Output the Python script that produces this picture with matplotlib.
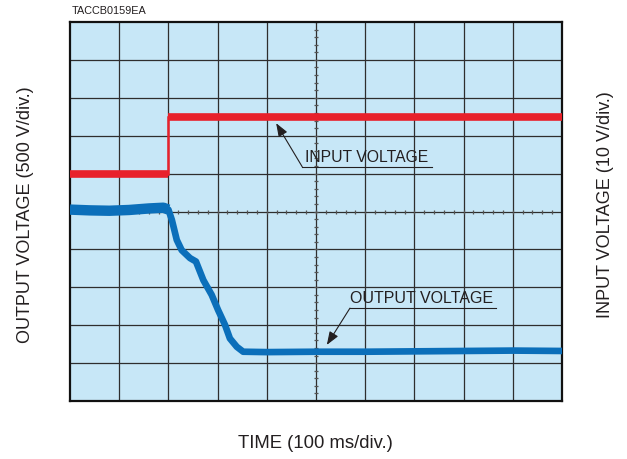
import matplotlib
matplotlib.use('Agg')
import matplotlib.pyplot as plt

plt.rcParams['font.family'] = ['Liberation Sans', 'DejaVu Sans']

# time and voltage in screen divisions (10 x 10 grid)
input_t = [0.0, 2.0, 2.0, 10.0]
input_v = [6.0, 6.0, 7.5, 7.5]

output_t = [0.0, 0.4, 0.8, 1.2, 1.6, 1.9, 2.0, 2.07, 2.17, 2.27, 2.44, 2.56, 2.71,
            2.88, 3.01, 3.15, 3.25, 3.39, 3.52, 4.0, 5.0, 6.0, 7.0, 8.0, 9.0, 10.0]
output_v = [5.05, 5.03, 5.02, 5.04, 5.08, 5.1, 5.05, 4.78, 4.25, 3.98, 3.77, 3.68, 3.19,
            2.8, 2.4, 2.01, 1.65, 1.43, 1.3, 1.29, 1.3, 1.3, 1.31, 1.32, 1.33, 1.32]

grid_lines = list(range(11))
center_ticks = [i * 0.2 for i in range(51)]

bg = '#c7e7f7'
red = '#e8212b'
blue = '#0b6fba'
grid_color = '#2e2e2e'
text_color = '#231f20'

fig = plt.figure(figsize=(6.27, 4.59), dpi=100)
ax = fig.add_axes([70 / 627, 1 - 401 / 459, 492 / 627, 379 / 459])
ax.set_facecolor(bg)
ax.set_xlim(0, 10)
ax.set_ylim(0, 10)
ax.set_xticks([])
ax.set_yticks([])
for s in ax.spines.values():
    s.set_linewidth(1.6)
    s.set_color('#111111')

# graticule
for g in grid_lines[1:-1]:
    ax.axvline(g, color=grid_color, lw=0.9, zorder=1)
    ax.axhline(g, color=grid_color, lw=0.9, zorder=1)

# minor ticks on the center cross
ax.plot(center_ticks, [5] * len(center_ticks), ls='none', marker='|',
        ms=3.5, mew=0.9, color='#555555', zorder=1)
ax.plot([5] * len(center_ticks), center_ticks, ls='none', marker='_',
        ms=3.5, mew=0.9, color='#555555', zorder=1)

# traces
ax.plot(input_t[:2], input_v[:2], color=red, lw=5.5, solid_capstyle='butt', zorder=3)
ax.plot(input_t[2:], input_v[2:], color=red, lw=5.5, solid_capstyle='butt', zorder=3)
ax.plot(input_t[1:3], input_v[1:3], color=red, lw=1.8, zorder=3)
ax.plot(output_t, output_v, color=blue, lw=4.8, zorder=3)
ax.plot(output_t[:7], output_v[:7], color=blue, lw=7.5, solid_capstyle='butt', zorder=3)

# annotations
arrow = dict(arrowstyle='-|>,head_length=0.8,head_width=0.3',
             color=text_color, lw=0.8, shrinkA=0, shrinkB=0)

ax.plot([4.72, 7.36], [6.18, 6.18], color=text_color, lw=0.8, zorder=4)
ax.text(4.78, 6.24, 'INPUT VOLTAGE', fontsize=11.3, color=text_color,
        ha='left', va='bottom', zorder=4)
ax.annotate('', xy=(4.19, 7.33), xytext=(4.72, 6.18), arrowprops=arrow, zorder=4)

ax.plot([5.69, 8.66], [2.45, 2.45], color=text_color, lw=0.8, zorder=4)
ax.text(5.69, 2.51, 'OUTPUT VOLTAGE', fontsize=11.5, color=text_color,
        ha='left', va='bottom', zorder=4)
ax.annotate('', xy=(5.22, 1.48), xytext=(5.69, 2.45), arrowprops=arrow, zorder=4)

# labels
fig.text(72 / 627, 1 - 11 / 459, 'TACCB0159EA', fontsize=7.8, color=text_color,
         ha='left', va='center')
fig.text(26 / 627, 1 - 215 / 459, 'OUTPUT VOLTAGE (500 V/div.)', fontsize=13,
         color=text_color, rotation=90, ha='center', va='center')
fig.text(606 / 627, 1 - 205 / 459, 'INPUT VOLTAGE (10 V/div.)', fontsize=13,
         color=text_color, rotation=90, ha='center', va='center')
fig.text(315 / 627, 1 - 443 / 459, 'TIME (100 ms/div.)', fontsize=13.3,
         color=text_color, ha='center', va='center')

fig.savefig('out.png', dpi=100)
